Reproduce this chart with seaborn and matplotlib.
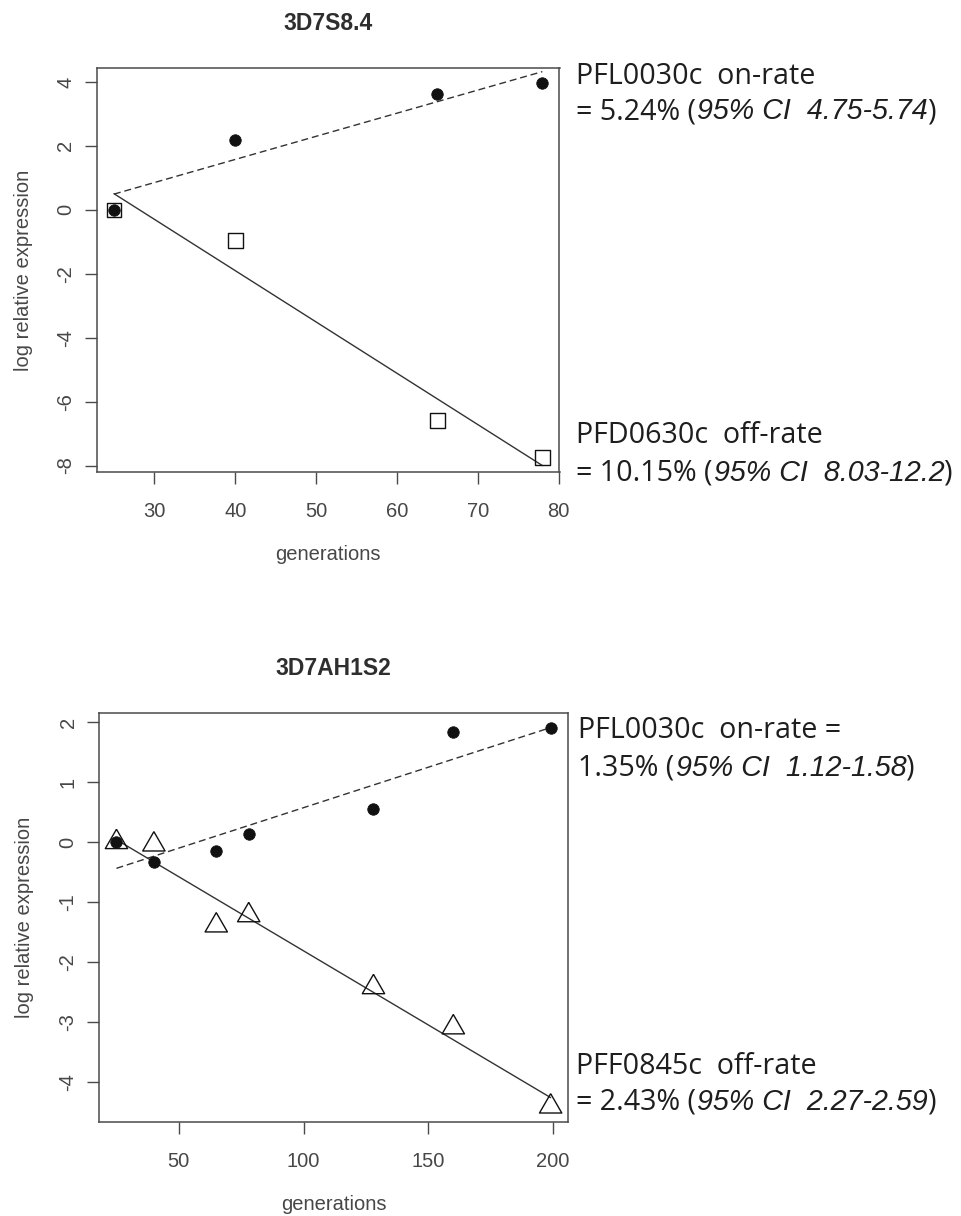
import matplotlib
matplotlib.use('Agg')
import matplotlib.pyplot as plt
import pandas as pd
import seaborn as sns

# panel 1: 3D7S8.4
top_title = '3D7S8.4'
top_gen = [25, 40, 65, 78]
top_on = [0.0, 2.18, 3.63, 3.97]
top_off = [0.0, -0.96, -6.60, -7.75]
top_xticks = [30, 40, 50, 60, 70, 80]
top_yticks = [-8, -6, -4, -2, 0, 2, 4]

# panel 2: 3D7AH1S2
bot_title = '3D7AH1S2'
bot_gen = [25, 40, 65, 78, 128, 160, 199]
bot_on = [0.0, -0.33, -0.14, 0.13, 0.56, 1.84, 1.90]
bot_off = [0.0, -0.04, -1.39, -1.22, -2.42, -3.09, -4.41]
bot_xticks = [50, 100, 150, 200]
bot_yticks = [-4, -3, -2, -1, 0, 1, 2]

# rate notes, each line is a list of (text, italic)
top_on_note = [[('PFL0030c  on-rate', False)],
               [('= 5.24% (', False), ('95% CI  4.75-5.74', True), (')', False)]]
top_off_note = [[('PFD0630c  off-rate', False)],
                [('= 10.15% (', False), ('95% CI  8.03-12.2', True), (')', False)]]
bot_on_note = [[('PFL0030c  on-rate =', False)],
               [('1.35% (', False), ('95% CI  1.12-1.58', True), (')', False)]]
bot_off_note = [[('PFF0845c  off-rate', False)],
                [('= 2.43% (', False), ('95% CI  2.27-2.59', True), (')', False)]]

W, H = 962, 1216
INK = '#1e1e1e'
AXC = '#4a4a4a'
LAB = '#474747'

sns.set_style('ticks')
plt.rcParams['font.family'] = ['Liberation Sans', 'DejaVu Sans']
plt.rcParams['axes.unicode_minus'] = False

fig = plt.figure(figsize=(W / 100, H / 100), dpi=100)

# triangle like R's pch 2 (equilateral, centred)
tri = [(0, 1.155), (-1, -0.577), (1, -0.577), (0, 1.155)]


def r_limits(vals):
    lo, hi = min(vals), max(vals)
    pad = 0.04 * (hi - lo)
    return lo - pad, hi + pad


def draw_panel(ax, gen, on, off, off_marker, off_size, xticks, yticks, title):
    on_df = pd.DataFrame({'generations': gen, 'expr': on})
    off_df = pd.DataFrame({'generations': gen, 'expr': off})
    sns.regplot(data=on_df, x='generations', y='expr', ci=None, ax=ax,
                color='#111111', marker='o',
                scatter_kws={'s': 68, 'linewidths': 0.6, 'alpha': 1, 'zorder': 3},
                line_kws={'linewidth': 1.0, 'dashes': (5, 2.8), 'color': '#333333'})
    sns.regplot(data=off_df, x='generations', y='expr', ci=None, ax=ax,
                color='#111111', marker=off_marker,
                scatter_kws={'s': off_size, 'facecolors': 'none', 'linewidths': 1.0,
                             'alpha': 1, 'zorder': 3},
                line_kws={'linewidth': 1.0, 'color': '#333333'})
    ax.set_xlim(r_limits(gen))
    ax.set_ylim(r_limits(on + off))
    ax.set_xticks(xticks, labels=[str(t) for t in xticks])
    ax.set_yticks(yticks, labels=[str(t) for t in yticks])
    ax.tick_params(axis='both', length=8.5, width=1, color=AXC, labelcolor=LAB,
                   labelsize=14.5, direction='out')
    ax.tick_params(axis='x', pad=13)
    ax.tick_params(axis='y', pad=7, labelrotation=90)
    for lab in ax.get_yticklabels():
        lab.set_va('center')
    for sp in ax.spines.values():
        sp.set_visible(True)
        sp.set_color(AXC)
        sp.set_linewidth(1.1)
    ax.set_xlabel('generations', fontsize=14.5, color=LAB)
    ax.set_ylabel('log relative expression', fontsize=14.5, color=LAB)
    ax.xaxis.set_label_coords(0.5, -0.18)
    ax.yaxis.set_label_coords(-0.138, 0.5)
    ax.set_title(title, fontsize=16.5, fontweight='bold', color='#2e2e2e',
                 y=1.109, pad=0, va='center')


def put_note(lines, x_px, baselines):
    r = fig.canvas.get_renderer()
    for parts, base in zip(lines, baselines):
        x = x_px
        for s, italic in parts:
            if italic:
                t = fig.text(x / W, 1 - base / H, s, fontsize=20.6, style='italic',
                             family=['Liberation Sans'], color=INK, va='baseline')
                x = t.get_window_extent(r).x1 - 1.5
            else:
                t = fig.text(x / W, 1 - base / H, s, fontsize=20.6,
                             family=['Open Sans', 'DejaVu Sans'], color=INK, va='baseline')
                x = t.get_window_extent(r).x1 + 1.5


ax1 = fig.add_axes([96.8 / W, 1 - 472.5 / H, 462.7 / W, 404.5 / H])
draw_panel(ax1, top_gen, top_on, top_off, 's', 112, top_xticks, top_yticks, top_title)

ax2 = fig.add_axes([99.1 / W, 1 - 1121.7 / H, 468.9 / W, 408.6 / H])
draw_panel(ax2, bot_gen, bot_on, bot_off, tri, 345, bot_xticks, bot_yticks, bot_title)

put_note(top_on_note, 576, [84, 119])
put_note(top_off_note, 576, [443, 481])
put_note(bot_on_note, 578, [738, 776])
put_note(bot_off_note, 576, [1074, 1110])

fig.savefig('out.png', dpi=100, facecolor='white')
